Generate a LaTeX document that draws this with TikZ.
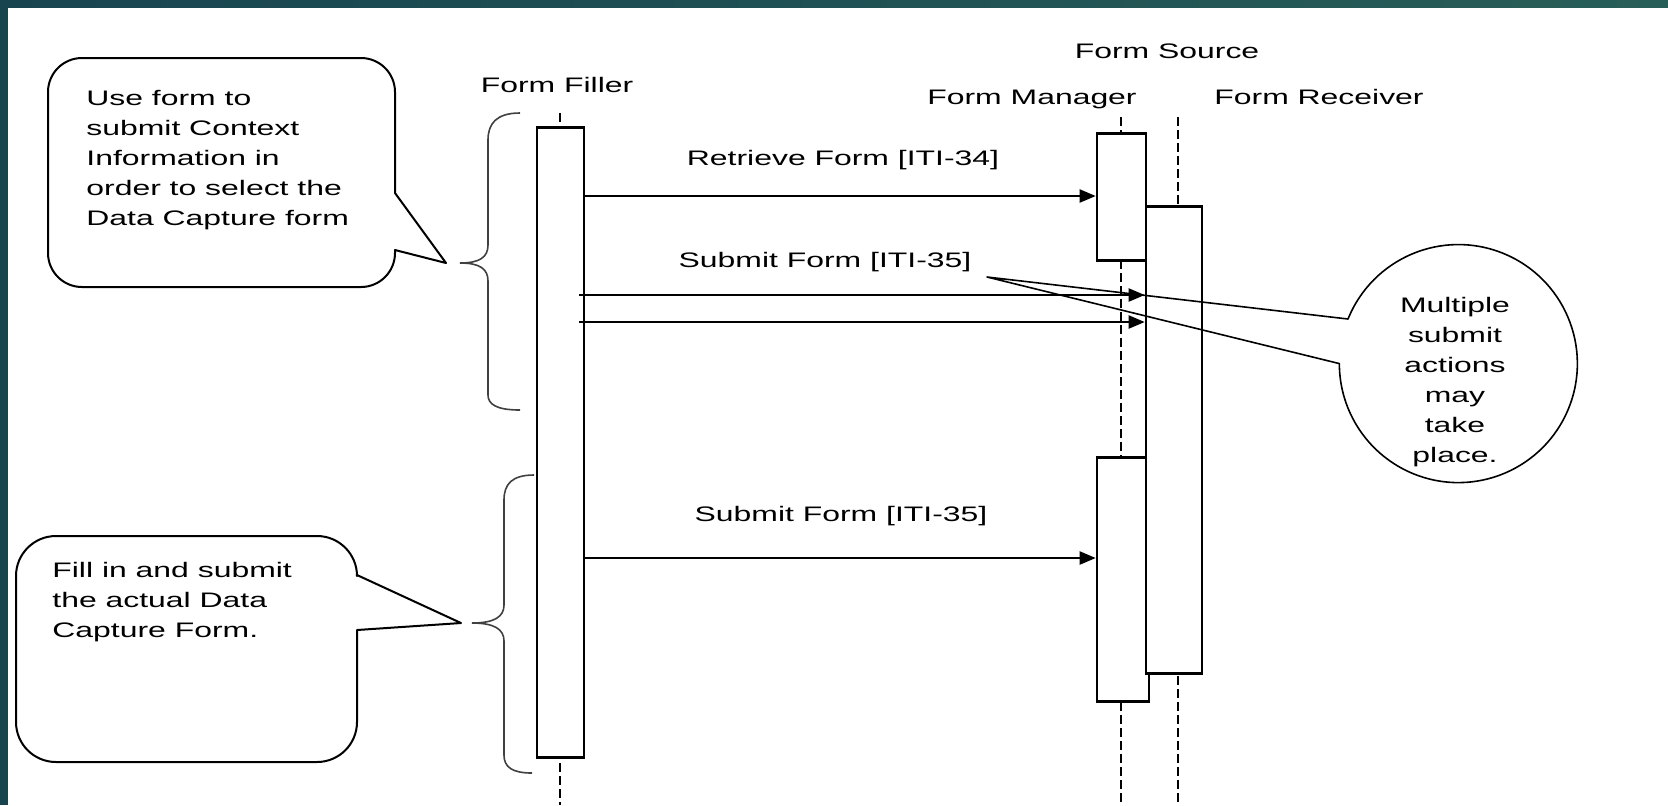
\documentclass[tikz,border=0pt]{standalone}
\usepackage{fontspec}
\setmainfont{Liberation Sans}[FakeStretch=1.52]
\usepackage{xcolor}
\definecolor{banddk}{RGB}{24,68,80}
\definecolor{bandmd}{RGB}{56,114,104}
\definecolor{bandrt}{RGB}{40,94,88}
\usepackage{tikz}
\usetikzlibrary{positioning, arrows.meta, calc}

\begin{document}
\begin{tikzpicture}[
  x=0.5pt, y=-0.5pt,
  font=\fontsize{10.5}{15}\selectfont,
  bar/.style={draw, fill=white, line width=1.3pt, anchor=north, inner sep=0pt},
  life/.style={line width=1.2pt, dash pattern=on 4.5pt off 2pt},
  arrow/.style={-{Triangle[length=8pt,width=6.5pt]}, line width=1pt},
  label/.style={anchor=base, inner sep=0pt},
  note/.style={line width=1pt, line join=round},
  brace/.style={draw=black!75, line width=0.8pt},
  txt/.style={inner sep=0pt, align=left, anchor=north west},
]
% Frame
\useasboundingbox (0,0) rectangle (1668,805);
\fill[banddk] (0,0) rectangle (8,805);
\shade[left color=banddk, middle color=bandmd, right color=bandrt] (0,0) rectangle (1668,7);

% Participants
\node[label] (lSource) at (1167,58) {Form Source};
\node[label] (lFiller) at (557,92) {Form Filler};
\node[label] (lMgr) at (1032,104) {Form Manager};
\node[label] (lRecv) at (1319,104) {Form Receiver};

% Lifelines
\coordinate (fTop) at (560,113);
\coordinate (fBot) at (560,805);
\coordinate (mTop) at (1121,117);
\coordinate (mBot) at (1121,805);
\coordinate (rTop) at (1178,117);
\coordinate (rBot) at (1178,805);
\draw[life] (fTop) -- (fBot);
\draw[life] (mTop) -- (mBot);
\draw[life] (rTop) -- (rBot);

% Activation bars
\node[bar, minimum width=23.5pt, minimum height=315pt] (filler) at (560.5,126) {};
\node[bar, minimum width=24.5pt, minimum height=63.5pt] (mgrA) at (1121.5,132) {};
\node[bar, minimum width=26pt, minimum height=122pt] (mgrB) at (1123,456) {};
\node[bar, minimum width=28pt, minimum height=233.5pt] (recv) at (1174,205) {};

% Messages
\coordinate (m1) at (0,196);
\coordinate (m2) at (0,295);
\coordinate (m3) at (0,322);
\coordinate (m4) at (0,558);
\draw[arrow] (filler.east |- m1) -- (mgrA.west |- m1);
\node[label] (t1) at (843,165) {Retrieve Form [ITI-34]};
\draw[arrow] ([xshift=-3pt]filler.east |- m2) -- (recv.west |- m2);
\draw[arrow] ([xshift=-3pt]filler.east |- m3) -- (recv.west |- m3);
\node[label] (t2) at (825,267) {Submit Form [ITI-35]};
\draw[arrow] (filler.east |- m4) -- (mgrB.west |- m4);
\node[label] (t3) at (841,521) {Submit Form [ITI-35]};

% Braces
\draw[brace] (520,113) .. controls (496,113) and (488,124) .. (488,140) -- (488,245)
  .. controls (488,257) and (480,263) .. (460,263) .. controls (480,263) and (488,269) .. (488,281)
  -- (488,395) .. controls (488,404) and (496,410) .. (520,410);
\draw[brace] (534,475) .. controls (512,475) and (504,484) .. (504,500) -- (504,605)
  .. controls (504,617) and (494,623) .. (472,623) .. controls (494,623) and (504,629) .. (504,641)
  -- (504,755) .. controls (504,767) and (512,773) .. (532,773);

% Callouts
\draw[note] (446,263) -- (395,193) [rounded corners=17pt] -- (395,58) -- (48,58) -- (48,287)
  -- (395,287) [sharp corners] -- (395,250) -- cycle;
\node[txt] (c1) at (86,90) {Use form to\\submit Context\\Information in\\order to select the\\Data Capture form};

\draw[note] (461,623) -- (357,630) [rounded corners=20pt] -- (357,762) -- (16,762) -- (16,536)
  -- (357,536) [sharp corners] -- (357,575) -- cycle;
\node[txt] (c2) at (52,562) {Fill in and submit\\the actual Data\\Capture Form.};

\coordinate (tip) at (987,277);
\draw[note, line width=0.8pt] (tip) -- (1348,319) arc[start angle=158, end angle=-180, radius=59.5pt] -- cycle;
\node[inner sep=0pt, align=center, anchor=north] (c3) at (1455,297) {Multiple\\submit\\actions\\may\\take\\place.};
\end{tikzpicture}
\end{document}
